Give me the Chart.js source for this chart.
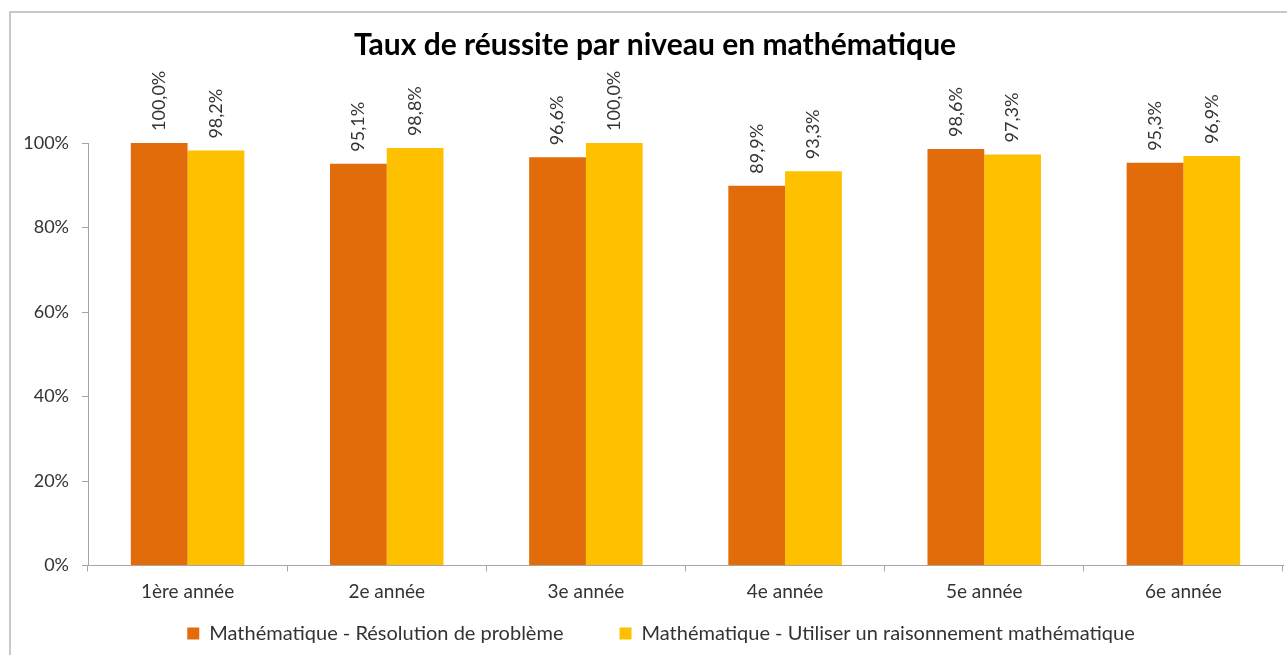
<!DOCTYPE html>
<html>
<head>
<meta charset="utf-8">
<script src="https://cdn.jsdelivr.net/npm/chart.js@4"></script>
<style>
  html, body { margin: 0; padding: 0; background: #fff; }
  #wrap { width: 1287px; height: 655px; }
</style>
</head>
<body>
<div id="wrap"><canvas id="myChart_bar"></canvas></div>
<script>
const niveaux = ['1ère année', '2e année', '3e année', '4e année', '5e année', '6e année'];
const resolution = [100.0, 95.1, 96.6, 89.9, 98.6, 95.3];
const raisonnement = [98.2, 98.8, 100.0, 93.3, 97.3, 96.9];
const yTicks = [0, 20, 40, 60, 80, 100];

const FONT = 'Lato, "Open Sans", sans-serif';
const TEXT = '#333333';
const AXIS = '#a6a6a6';

// cadre gris autour du graphique
const cadre = {
  id: 'cadre',
  beforeDraw(chart) {
    const ctx = chart.ctx;
    ctx.save();
    ctx.fillStyle = '#fff';
    ctx.fillRect(0, 0, chart.width, chart.height);
    ctx.strokeStyle = '#c8c8c8';
    ctx.lineWidth = 2;
    ctx.strokeRect(10, 12, chart.width + 20, chart.height + 20);
    ctx.restore();
  }
};

// décale un peu le titre et la légende vers la droite, comme l'original
const decalage = {
  id: 'decalage',
  afterLayout(chart) {
    if (chart.titleBlock) { chart.titleBlock.left += 9; chart.titleBlock.right += 9; }
    if (chart.legend) { chart.legend.left += 15; chart.legend.right += 15; }
  }
};

// étiquettes verticales au-dessus des barres
const etiquettes = {
  id: 'etiquettes',
  afterDatasetsDraw(chart) {
    const ctx = chart.ctx;
    ctx.save();
    ctx.font = '18px ' + FONT;
    ctx.fillStyle = TEXT;
    ctx.textAlign = 'left';
    ctx.textBaseline = 'middle';
    chart.data.datasets.forEach((ds, i) => {
      chart.getDatasetMeta(i).data.forEach((bar, j) => {
        const txt = ds.data[j].toFixed(1).replace('.', ',') + '%';
        ctx.save();
        ctx.translate(bar.x, bar.y - 12);
        ctx.rotate(-Math.PI / 2);
        ctx.fillText(txt, 0, 0);
        ctx.restore();
      });
    });
    ctx.restore();
  }
};

new Chart(document.getElementById('myChart_bar'), {
  type: 'bar',
  data: {
    labels: niveaux,
    datasets: [{
      label: 'Mathématique - Résolution de problème' + '\u00a0'.repeat(9),
      data: resolution,
      backgroundColor: '#E36C0A'
    }, {
      label: 'Mathématique - Utiliser un raisonnement mathématique',
      data: raisonnement,
      backgroundColor: '#FFC000'
    }]
  },
  options: {
    responsive: true,
    maintainAspectRatio: false,
    animation: false,
    categoryPercentage: 0.57,
    barPercentage: 1.0,
    layout: { padding: { top: 27, left: 9, right: 4, bottom: 1.5 } },
    plugins: {
      title: {
        display: true,
        text: 'Taux de réussite par niveau en mathématique',
        color: '#000',
        font: { family: FONT, size: 30, weight: 'bold' },
        padding: { top: 0, bottom: 80 }
      },
      legend: {
        position: 'bottom',
        labels: {
          color: TEXT,
          font: { family: FONT, size: 20 },
          boxWidth: 12,
          boxHeight: 12,
          padding: 10
        }
      },
      tooltip: { enabled: false }
    },
    scales: {
      x: {
        grid: { drawOnChartArea: false, drawTicks: true, tickLength: 6, color: AXIS },
        border: { color: AXIS },
        ticks: { color: TEXT, font: { family: FONT, size: 19 }, padding: 9 },
        afterFit(scale) { scale.height = 48; }
      },
      y: {
        min: 0,
        max: 100,
        afterBuildTicks(scale) { scale.ticks = yTicks.map(v => ({ value: v })); },
        grid: { drawOnChartArea: false, drawTicks: true, tickLength: 6, color: AXIS },
        border: { color: AXIS },
        ticks: {
          color: TEXT,
          font: { family: FONT, size: 18 },
          padding: 13,
          callback: v => v + '%'
        },
        afterFit(scale) { scale.width = 79; }
      }
    }
  },
  plugins: [cadre, decalage, etiquettes]
});
</script>
</body>
</html>
